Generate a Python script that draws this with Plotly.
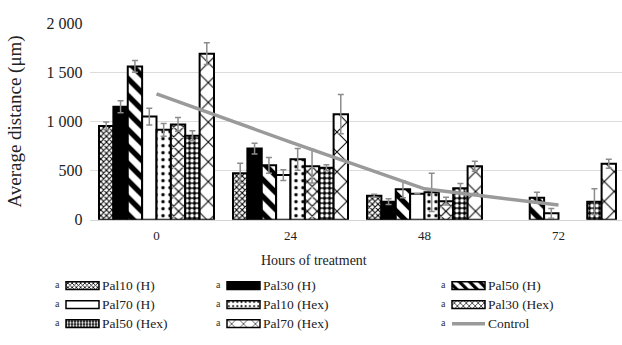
import plotly.graph_objects as go

# ---- data -------------------------------------------------------------
hours = ["0", "24", "48", "72"]

series_names = [
    "Pal10 (H)", "Pal30 (H)", "Pal50 (H)", "Pal70 (H)",
    "Pal10 (Hex)", "Pal30 (Hex)", "Pal50 (Hex)", "Pal70 (Hex)",
]

pal10_h = [955, 475, 245, None]
pal30_h = [1150, 725, 185, None]
pal50_h = [1560, 555, 310, 225]
pal70_h = [1050, 455, 265, 66]
pal10_hex = [915, 615, 280, None]
pal30_hex = [970, 545, 190, None]
pal50_hex = [855, 530, 320, 185]
pal70_hex = [1690, 1075, 545, 570]

pal10_h_err = [40, 100, 15, 0]
pal30_h_err = [60, 55, 30, 0]
pal50_h_err = [60, 80, 85, 55]
pal70_h_err = [85, 55, 0, 50]
pal10_hex_err = [65, 110, 195, 0]
pal30_hex_err = [70, 170, 40, 0]
pal50_hex_err = [50, 30, 50, 130]
pal70_hex_err = [110, 200, 50, 45]

control = [1282, 790, 315, 150]

values = [pal10_h, pal30_h, pal50_h, pal70_h,
          pal10_hex, pal30_hex, pal50_hex, pal70_hex]
errors = [pal10_h_err, pal30_h_err, pal50_h_err, pal70_h_err,
          pal10_hex_err, pal30_hex_err, pal50_hex_err, pal70_hex_err]

# ---- styling ----------------------------------------------------------
W, H = 622, 345
FONT = "Liberation Serif"
TXT = "#222222"

# fill style per series: (base colour, pattern shape, fg, size, solidity)
fills = [
    ("white", "x", "black", 4, 0.45),
    ("black", "", "black", 8, 0.3),
    ("white", "\\", "black", 12, 0.45),
    ("white", "", "black", 8, 0.3),
    ("white", ".", "black", 7, 0.18),
    ("white", "x", "black", 7, 0.3),
    ("black", ".", "white", 5, 0.45),
    ("white", "x", "black", 14, 0.14),
]


def marker_for(i, lw=2.0, scale=1.0):
    base, shape, fg, size, sol = fills[i]
    return dict(
        color=base,
        line=dict(color="black", width=lw),
        pattern=dict(shape=shape, fgcolor=fg, bgcolor=base,
                     size=max(3, size * scale), solidity=sol,
                     fillmode="replace"),
    )


fig = go.Figure()

for i, name in enumerate(series_names):
    fig.add_trace(go.Bar(
        x=hours, y=values[i], name=name,
        marker=marker_for(i),
        error_y=dict(type="data", array=errors[i], visible=True,
                     color="#8c8c8c", thickness=1.5, width=3),
        showlegend=False,
    ))

fig.add_trace(go.Scatter(
    x=hours, y=control, name="Control", mode="lines",
    line=dict(color="#9a9a9a", width=3.5),
    showlegend=False,
))

# ---- legend drawn as swatches on a helper subplot ----------------------
col_x = [57, 218, 443]          # "a" marker positions
row_y = [292, 312, 332]
sw_dx, sw_w, sw_h = 9, 33, 8

for k, name in enumerate(series_names):
    r, c = divmod(k, 3)
    fig.add_trace(go.Bar(
        x=[sw_w], y=[row_y[r]], base=[col_x[c] + sw_dx],
        orientation="h", width=sw_h, offset=-sw_h / 2,
        marker=marker_for(k, lw=1.5, scale=0.6),
        xaxis="x2", yaxis="y2", showlegend=False, hoverinfo="skip",
    ))

# control swatch (third column, third row)
cx = col_x[2] + sw_dx
fig.add_trace(go.Scatter(
    x=[cx, cx + sw_w], y=[row_y[2], row_y[2]], mode="lines",
    line=dict(color="#9a9a9a", width=3.5),
    xaxis="x2", yaxis="y2", showlegend=False, hoverinfo="skip",
))

legend_labels = series_names + ["Control"]
annotations = []
for k, lab in enumerate(legend_labels):
    r, c = divmod(k, 3)
    annotations.append(dict(
        x=col_x[c], y=row_y[r] - 1, xref="x2", yref="y2", text="a",
        showarrow=False, xanchor="center", yanchor="middle",
        font=dict(family=FONT, size=10, color="#333333"),
    ))
    annotations.append(dict(
        x=col_x[c] + sw_dx + sw_w + 1, y=row_y[r], xref="x2", yref="y2",
        text=lab, showarrow=False, xanchor="left", yanchor="middle",
        font=dict(family=FONT, size=13.5, color=TXT),
    ))

# axis titles
annotations.append(dict(
    x=314 / W, y=(H - 266) / H, xref="paper", yref="paper",
    xanchor="center", yanchor="middle",
    text="Hours of treatment", showarrow=False,
    font=dict(family=FONT, size=14, color=TXT),
))
annotations.append(dict(
    x=15 / W, y=(H - 119.5) / H, xref="paper", yref="paper",
    xanchor="center", yanchor="middle",
    text="Average distance (μm)", textangle=-90, showarrow=False,
    font=dict(family=FONT, size=19, color=TXT),
))

plot_left = 89.5 / W
plot_bottom = (H - 222.8) / H
plot_top = (H - 16) / H

fig.update_layout(
    width=W, height=H,
    margin=dict(l=0, r=0, t=0, b=0),
    paper_bgcolor="white", plot_bgcolor="white",
    barmode="group", bargap=0.142, bargroupgap=0,
    separators=". ",
    font=dict(family=FONT, color=TXT),
    annotations=annotations,
    xaxis=dict(
        type="category", domain=[plot_left, 1], range=[-0.5, 3.474],
        showgrid=False, ticks="", ticklabelstandoff=4,
        showline=True, linecolor="#d4d4d4", linewidth=1,
        tickfont=dict(family=FONT, size=13, color=TXT),
        anchor="y",
    ),
    yaxis=dict(
        domain=[plot_bottom, plot_top], range=[0, 2000],
        tickvals=[0, 500, 1000, 1500, 2000], tickformat=",d",
        showgrid=True, gridcolor="#dcdcdc", gridwidth=1,
        zeroline=False, showline=False, ticks="",
        ticklabelstandoff=6,
        tickfont=dict(family=FONT, size=16, color=TXT),
    ),
    xaxis2=dict(domain=[0, 1], range=[0, W], visible=False, anchor="y2"),
    yaxis2=dict(domain=[0, 0.2], range=[H, H - 0.2 * H], visible=False,
                anchor="x2"),
)

fig.write_html("out.html")
